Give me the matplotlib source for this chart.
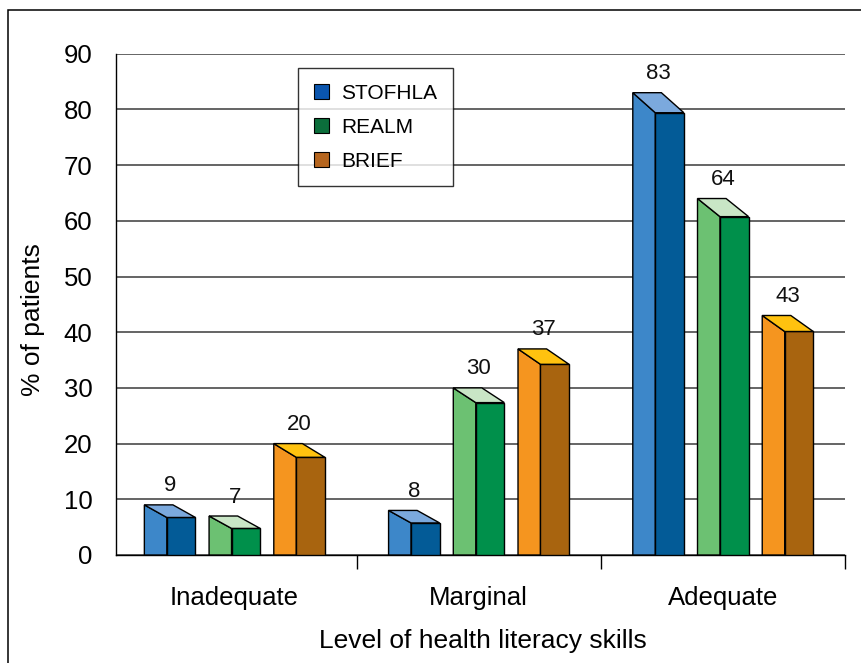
import matplotlib.pyplot as plt
import numpy as np
from matplotlib.patches import Polygon, Patch, Rectangle

plt.rcParams['font.family'] = ['Liberation Sans', 'DejaVu Sans']

# data
categories = ['Inadequate', 'Marginal', 'Adequate']
series = ['STOFHLA', 'REALM', 'BRIEF']
stofhla = [9, 8, 83]
realm = [7, 30, 64]
brief = [20, 37, 43]
values = [stofhla, realm, brief]

# face colours: side (light), front (dark), top
side_cols = ['#3d87c9', '#6cc172', '#f5951f']
front_cols = ['#035b97', '#00904b', '#a8640f']
top_cols = ['#7ba9dd', '#c9e6c6', '#ffc20f']
legend_cols = ['#0a55ae', '#0b6e3b', '#b5651e']

fig = plt.figure(figsize=(8.62, 6.63), dpi=100)
ax = fig.add_axes([0.1346, 0.1629, 0.8457, 0.7561])

side_w = 0.092
front_w = 0.117
pitch = 0.265
first = -0.369

for i, vals in enumerate(values):
    for g, v in enumerate(vals):
        xb = g + first + i * pitch
        d = 2.1 + 0.018 * v
        xf = xb + side_w
        xr = xf + front_w
        side = Polygon([(xb, 0), (xb, v), (xf, v - d), (xf, 0)],
                       closed=True, fc=side_cols[i], ec='black', lw=1, zorder=3)
        front = Polygon([(xf, 0), (xf, v - d), (xr, v - d), (xr, 0)],
                        closed=True, fc=front_cols[i], ec='black', lw=1, zorder=3)
        top = Polygon([(xb, v), (xb + front_w, v), (xr, v - d), (xf, v - d)],
                      closed=True, fc=top_cols[i], ec='black', lw=1, zorder=3)
        for p in (side, front, top):
            ax.add_patch(p)
        ax.text((xb + xr) / 2, v + 3.4, str(v), ha='center', va='center',
                fontsize=16, color='#111111', zorder=4)

ax.set_xlim(-0.485, 2.5)
ax.set_ylim(0, 90)
ax.set_yticks(np.arange(0, 91, 10))
ax.yaxis.grid(True, color='#3a3a3a', lw=1.1, zorder=0)
ax.set_axisbelow(True)
ax.tick_params(axis='y', length=0, pad=17, labelsize=18.5)

# category ticks at boundaries, labels at centres
ax.set_xticks([0.5, 1.5, 2.5])
ax.set_xticklabels([])
ax.set_xticks([0, 1, 2], minor=True)
ax.set_xticklabels(categories, minor=True)
ax.tick_params(axis='x', which='major', length=10, width=1, color='black')
ax.tick_params(axis='x', which='minor', length=0, pad=22, labelsize=18.5)

for s in ['top', 'right']:
    ax.spines[s].set_visible(False)
ax.spines['left'].set_linewidth(1)
ax.spines['bottom'].set_linewidth(1)

ax.set_ylabel('% of patients', fontsize=19, va='center')
ax.yaxis.set_label_coords(-0.114, 0.47)
ax.set_xlabel('Level of health literacy skills', fontsize=19, va='center')
ax.xaxis.set_label_coords(0.503, -0.172)

handles = [Patch(fc=c, ec='black', lw=0.8) for c in legend_cols]
leg = ax.legend(handles, series, loc='upper left', bbox_to_anchor=(0.2497, 0.9715),
                borderaxespad=0, fontsize=15, frameon=True, fancybox=False,
                handlelength=0.72, handleheight=0.72, handletextpad=0.6,
                labelspacing=0.72, borderpad=0.75)
leg.get_frame().set_edgecolor('black')
leg.get_frame().set_linewidth(1)

# outer frame of the figure (left and top edges visible)
fig.patches.append(Rectangle((8 / 862, -0.5), 2, 1.5 - 10 / 663,
                             transform=fig.transFigure, fill=False,
                             ec='black', lw=1.1))

fig.savefig('out.png', dpi=100)
